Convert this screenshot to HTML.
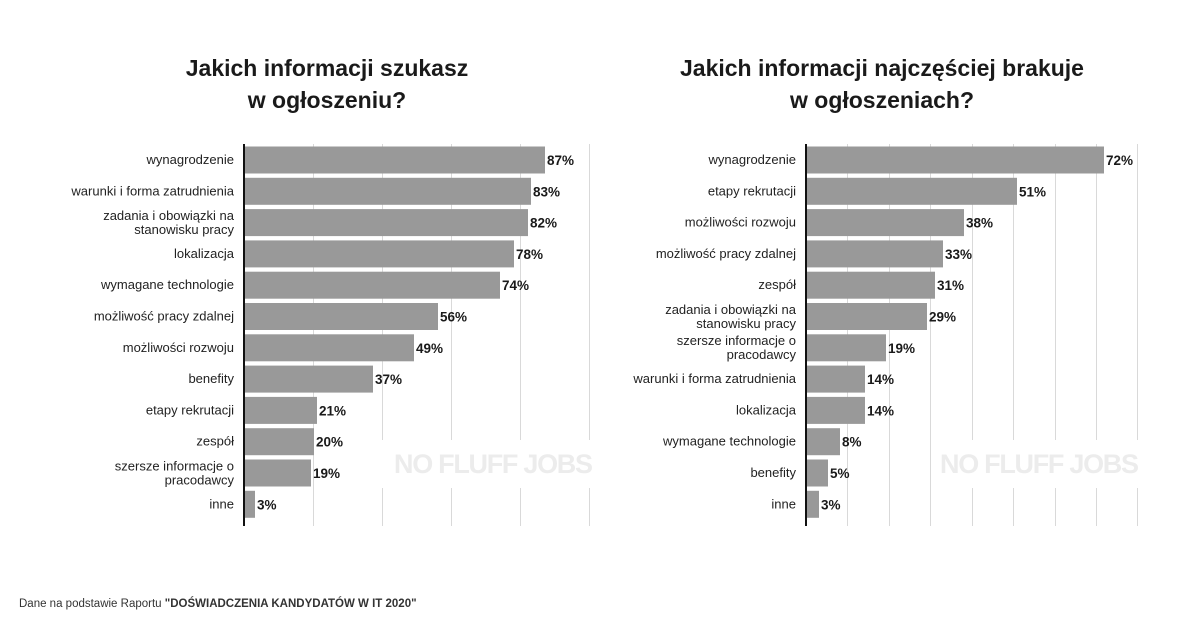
<!DOCTYPE html>
<html><head><meta charset="utf-8"><style>
html,body{margin:0;padding:0;background:#fff;}
svg{display:block;font-family:"Liberation Sans",sans-serif;}
.t{font-size:23px;font-weight:bold;fill:#1a1a1a;text-anchor:middle}
.l{font-size:13px;fill:#222;text-anchor:end}
.v{font-size:13.5px;font-weight:bold;fill:#1a1a1a}
.b{fill:#999}
.g{stroke:#d9d9d9;stroke-width:1}
.w{font-size:27px;font-weight:900;fill:#ececec;letter-spacing:-1px}
</style></head><body>
<svg width="1200" height="628" viewBox="0 0 1200 628">
<text class="t" x="327" y="76">Jakich informacji szukasz</text>
<text class="t" x="327" y="108">w ogłoszeniu?</text>
<text class="t" x="882" y="76">Jakich informacji najczęściej brakuje</text>
<text class="t" x="882" y="108">w ogłoszeniach?</text>

<g class="g">
<line x1="313.5" y1="144" x2="313.5" y2="526"/><line x1="382.5" y1="144" x2="382.5" y2="440"/><line x1="382.5" y1="488" x2="382.5" y2="526"/>
<line x1="451.5" y1="144" x2="451.5" y2="440"/><line x1="451.5" y1="488" x2="451.5" y2="526"/>
<line x1="520.5" y1="144" x2="520.5" y2="440"/><line x1="520.5" y1="488" x2="520.5" y2="526"/>
<line x1="589.5" y1="144" x2="589.5" y2="440"/><line x1="589.5" y1="488" x2="589.5" y2="526"/>
</g>
<g class="g">
<line x1="847.5" y1="144" x2="847.5" y2="526"/><line x1="889.5" y1="144" x2="889.5" y2="526"/><line x1="930.5" y1="144" x2="930.5" y2="526"/>
<line x1="972.5" y1="144" x2="972.5" y2="440"/><line x1="972.5" y1="488" x2="972.5" y2="526"/>
<line x1="1013.5" y1="144" x2="1013.5" y2="440"/><line x1="1013.5" y1="488" x2="1013.5" y2="526"/>
<line x1="1055.5" y1="144" x2="1055.5" y2="440"/><line x1="1055.5" y1="488" x2="1055.5" y2="526"/>
<line x1="1096.5" y1="144" x2="1096.5" y2="440"/><line x1="1096.5" y1="488" x2="1096.5" y2="526"/>
<line x1="1137.5" y1="144" x2="1137.5" y2="440"/><line x1="1137.5" y1="488" x2="1137.5" y2="526"/>
</g>
<text class="w" x="394" y="473" textLength="198">NO FLUFF JOBS</text>
<text class="w" x="940" y="473" textLength="198">NO FLUFF JOBS</text>

<g class="b">
<rect x="245" y="146.5" width="300" height="27"/>
<rect x="245" y="177.8" width="286" height="27"/>
<rect x="245" y="209.1" width="283" height="27"/>
<rect x="245" y="240.4" width="269" height="27"/>
<rect x="245" y="271.7" width="255" height="27"/>
<rect x="245" y="303" width="193" height="27"/>
<rect x="245" y="334.3" width="169" height="27"/>
<rect x="245" y="365.6" width="128" height="27"/>
<rect x="245" y="396.9" width="72" height="27"/>
<rect x="245" y="428.2" width="69" height="27"/>
<rect x="245" y="459.5" width="66" height="27"/>
<rect x="245" y="490.8" width="10" height="27"/>
</g>
<line x1="244" y1="144" x2="244" y2="526" stroke="#111" stroke-width="2"/>
<g class="l">
<text x="234" y="164">wynagrodzenie</text>
<text x="234" y="195.3">warunki i forma zatrudnienia</text>
<text x="234" y="220">zadania i obowiązki na</text>
<text x="234" y="234">stanowisku pracy</text>
<text x="234" y="257.9">lokalizacja</text>
<text x="234" y="289.2">wymagane technologie</text>
<text x="234" y="320.5">możliwość pracy zdalnej</text>
<text x="234" y="351.8">możliwości rozwoju</text>
<text x="234" y="383.1">benefity</text>
<text x="234" y="414.4">etapy rekrutacji</text>
<text x="234" y="445.7">zespół</text>
<text x="234" y="470.5">szersze informacje o</text>
<text x="234" y="484.5">pracodawcy</text>
<text x="234" y="508.3">inne</text>
</g>
<g class="v">
<text x="547" y="165">87%</text>
<text x="533" y="196.3">83%</text>
<text x="530" y="227.6">82%</text>
<text x="516" y="258.9">78%</text>
<text x="502" y="290.2">74%</text>
<text x="440" y="321.5">56%</text>
<text x="416" y="352.8">49%</text>
<text x="375" y="384.1">37%</text>
<text x="319" y="415.4">21%</text>
<text x="316" y="446.7">20%</text>
<text x="313" y="478">19%</text>
<text x="257" y="509.3">3%</text>
</g>

<g class="b">
<rect x="807" y="146.5" width="297" height="27"/>
<rect x="807" y="177.8" width="210" height="27"/>
<rect x="807" y="209.1" width="157" height="27"/>
<rect x="807" y="240.4" width="136" height="27"/>
<rect x="807" y="271.7" width="128" height="27"/>
<rect x="807" y="303" width="120" height="27"/>
<rect x="807" y="334.3" width="79" height="27"/>
<rect x="807" y="365.6" width="58" height="27"/>
<rect x="807" y="396.9" width="58" height="27"/>
<rect x="807" y="428.2" width="33" height="27"/>
<rect x="807" y="459.5" width="21" height="27"/>
<rect x="807" y="490.8" width="12" height="27"/>
</g>
<line x1="806" y1="144" x2="806" y2="526" stroke="#111" stroke-width="2"/>
<g class="l">
<text x="796" y="164">wynagrodzenie</text>
<text x="796" y="195.3">etapy rekrutacji</text>
<text x="796" y="226.6">możliwości rozwoju</text>
<text x="796" y="257.9">możliwość pracy zdalnej</text>
<text x="796" y="289.2">zespół</text>
<text x="796" y="314">zadania i obowiązki na</text>
<text x="796" y="328">stanowisku pracy</text>
<text x="796" y="345">szersze informacje o</text>
<text x="796" y="359">pracodawcy</text>
<text x="796" y="383.1">warunki i forma zatrudnienia</text>
<text x="796" y="414.4">lokalizacja</text>
<text x="796" y="445.7">wymagane technologie</text>
<text x="796" y="477">benefity</text>
<text x="796" y="508.3">inne</text>
</g>
<g class="v">
<text x="1106" y="165">72%</text>
<text x="1019" y="196.3">51%</text>
<text x="966" y="227.6">38%</text>
<text x="945" y="258.9">33%</text>
<text x="937" y="290.2">31%</text>
<text x="929" y="321.5">29%</text>
<text x="888" y="352.8">19%</text>
<text x="867" y="384.1">14%</text>
<text x="867" y="415.4">14%</text>
<text x="842" y="446.7">8%</text>
<text x="830" y="478">5%</text>
<text x="821" y="509.3">3%</text>
</g>

<text x="19" y="607" style="font-size:11.5px;fill:#333">Dane na podstawie Raportu <tspan font-weight="bold">"DOŚWIADCZENIA KANDYDATÓW W IT 2020"</tspan></text>
</svg>
</body></html>
